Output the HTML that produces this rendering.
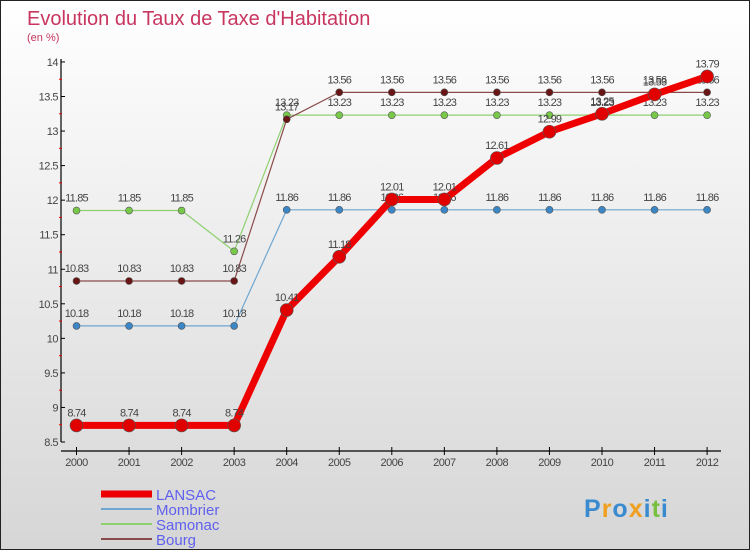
<!DOCTYPE html>
<html><head><meta charset="utf-8"><style>
body{margin:0}
#c{width:750px;height:550px;position:relative;box-sizing:border-box;border:1px solid #222;background:linear-gradient(#ffffff,#d6d6d6);font-family:"Liberation Sans",sans-serif;overflow:hidden}
</style></head><body>
<div id="c">
<svg id="s" width="750" height="550" style="position:absolute;left:0;top:0">
<text x="26" y="24" font-size="20" fill="#c8365f">Evolution du Taux de Taxe d'Habitation</text>
<text x="26" y="40" font-size="11" fill="#c8365f">(en %)</text>
</svg>
</div>
<script>
const years=["2000","2001","2002","2003","2004","2005","2006","2007","2008","2009","2010","2011","2012"];
const yTicks=[8.5,9,9.5,10,10.5,11,11.5,12,12.5,13,13.5,14];
const lansac=[8.74,8.74,8.74,8.74,10.41,11.18,12.01,12.01,12.61,12.99,13.25,13.53,13.79];
const mombrier=[10.18,10.18,10.18,10.18,11.86,11.86,11.86,11.86,11.86,11.86,11.86,11.86,11.86];
const samonac=[11.85,11.85,11.85,11.26,13.23,13.23,13.23,13.23,13.23,13.23,13.23,13.23,13.23];
const bourg=[10.83,10.83,10.83,10.83,13.17,13.56,13.56,13.56,13.56,13.56,13.56,13.56,13.56];
const seriesNames=["LANSAC","Mombrier","Samonac","Bourg"];
const NS="http://www.w3.org/2000/svg";
const svg=document.getElementById('s');
function X(i){return 75.5+i*52.55;}
function Y(v){return 441-(v-8.5)*69.1;}
function mk(t,a,p){const e=document.createElementNS(NS,t);for(const k in a)e.setAttribute(k,a[k]);(p||svg).appendChild(e);return e;}
let ax=mk('line',{x1:60,y1:58,x2:60,y2:441,stroke:'#000','stroke-width':1.2});


yTicks.forEach((v,i)=>{
 mk('line',{x1:60,y1:Y(v),x2:64,y2:Y(v),stroke:'#000'});
 if(i<yTicks.length-1) mk('line',{x1:58,y1:Y(v+0.25),x2:61,y2:Y(v+0.25),stroke:'#e00'});
 const t=mk('text',{x:57,y:Y(v)+4,'font-size':11,fill:'#444','text-anchor':'end','letter-spacing':'-0.5'});
 t.textContent=String(v);
 
 
});
let xa=mk('line',{x1:60,y1:450,x2:720,y2:450,stroke:'#000','stroke-width':1.2});


years.forEach((y,i)=>{
 mk('line',{x1:X(i),y1:446,x2:X(i),y2:454,stroke:'#000'});
 const t=mk('text',{x:X(i),y:465,'font-size':11,fill:'#444','text-anchor':'middle','letter-spacing':'-0.5'});
 t.textContent=y;
 
 
});
function series(data,color,width,r,dot,name){
 const g=mk('g',{});
 
 
 mk('polyline',{points:data.map((v,i)=>X(i)+','+Y(v)).join(' '),fill:'none',stroke:color,'stroke-width':width,'stroke-linejoin':'round'},g);
 data.forEach((v,i)=>{
  const c=mk('circle',{cx:X(i),cy:Y(v),r:r,fill:dot,stroke:'#555','stroke-width':0.6},g);
  
  
  const t=mk('text',{x:X(i),y:Y(v)-9,'font-size':11,fill:'#444','text-anchor':'middle','letter-spacing':'-0.8'},g);
  t.textContent=String(v);
  
  
 });
}
series(mombrier,'#6fa6d0',1.2,3.5,'#3a86c6','mombrier');
series(samonac,'#8fd070',1.2,3.5,'#78c84a','samonac');
series(bourg,'#8a4a4a',1.2,3.5,'#6a1515','bourg');
series(lansac,'#ee0000',7,6.5,'#e00000','lansac');
const leg=[['#ee0000',7],['#6fa6d0',2],['#8fd070',2],['#8a4a4a',2]];
leg.forEach((l,i)=>{
 const y=493+i*15;
 const ln=mk('line',{x1:100,y1:y,x2:151,y2:y,stroke:l[0],'stroke-width':l[1]});
 
 
 const t=mk('text',{x:155,y:y+6,'font-size':15,fill:'#6060ee'});
 t.textContent=seriesNames[i];
 
 
});
const lg=mk('text',{x:583,y:516,'font-size':25,'font-weight':'bold','letter-spacing':'1'});


[['P','#3a8ad0'],['r','#f0a020'],['o','#3a8ad0'],['x','#f0a020'],['i','#3a8ad0'],['t','#78c040'],['i','#3a8ad0']].forEach(p=>{const s=mk('tspan',{fill:p[1]},lg);s.textContent=p[0];});
</script>
</body></html>
